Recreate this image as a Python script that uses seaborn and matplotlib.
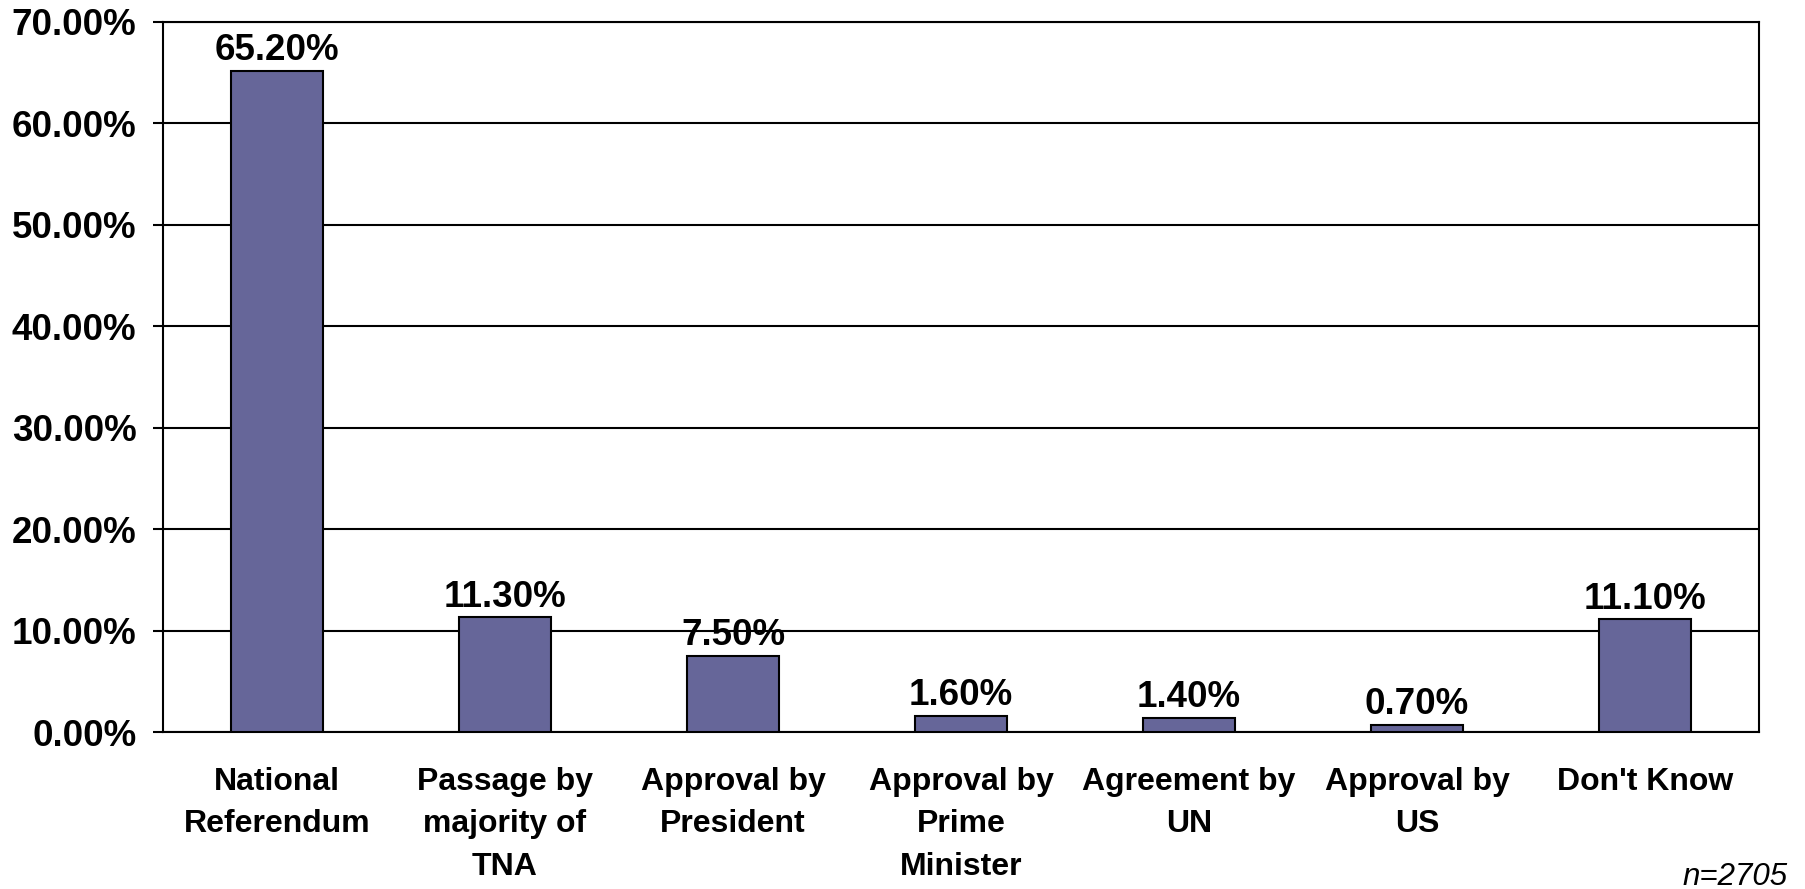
import matplotlib
matplotlib.use('Agg')
import matplotlib.pyplot as plt
import seaborn as sns
import pandas as pd

# Chart data
categories = ["National\nReferendum", "Passage by\nmajority of\nTNA", "Approval by\nPresident",
              "Approval by\nPrime\nMinister", "Agreement by\nUN", "Approval by\nUS", "Don't Know"]
values = [65.2, 11.3, 7.5, 1.6, 1.4, 0.7, 11.1]
y_ticks = [0, 10, 20, 30, 40, 50, 60, 70]
note = "n=2705"

df = pd.DataFrame({'option': categories, 'pct': values})

sns.set_style('white')
plt.rcParams['font.family'] = ['Liberation Sans', 'DejaVu Sans']
plt.rcParams['text.color'] = 'black'
plt.rcParams['xtick.color'] = 'black'
plt.rcParams['ytick.color'] = 'black'

W, H = 1806, 889
fig = plt.figure(figsize=(W / 100, H / 100), dpi=100)
ax = fig.add_axes([163 / W, 1 - 732 / H, (1759 - 163) / W, (732 - 22) / H])

sns.barplot(data=df, x='option', y='pct', color='#666699', saturation=1,
            edgecolor='black', linewidth=1.5, width=0.4, ax=ax, zorder=3)

ax.set_ylim(0, 70)
ax.set_xlim(-0.5, len(categories) - 0.5)
ax.set_yticks(y_ticks)
ax.set_yticklabels([f"{v:.2f}%" for v in y_ticks], fontsize=26.5, fontweight='bold')
ax.yaxis.grid(True, color='black', linewidth=1.5, zorder=0)
ax.set_axisbelow(True)

ax.set_xticks(range(len(categories)))
ax.set_xticklabels(categories, fontsize=23, fontweight='bold', linespacing=1.55)
ax.set_xticks([i - 0.5 for i in range(len(categories) + 1)], minor=True)
ax.tick_params(axis='x', which='major', length=0, pad=25)
ax.tick_params(axis='x', which='minor', length=7.5, width=1.5, direction='out', color='black')
ax.tick_params(axis='y', length=7.5, width=1.5, direction='out', color='black', pad=11.5, left=True)
ax.set_xlabel('')
ax.set_ylabel('')

for side in ['left', 'right', 'bottom', 'top']:
    ax.spines[side].set_visible(True)
    ax.spines[side].set_color('black')
    ax.spines[side].set_linewidth(1.5)

for cont in ax.containers:
    ax.bar_label(cont, fmt='%.2f%%', padding=2, fontsize=26.5, fontweight='bold', color='black')

fig.text(1788 / W, 1 - 885 / H, note, ha='right', va='baseline', style='italic', fontsize=22.5)

fig.savefig('out.png', dpi=100, facecolor='white')
